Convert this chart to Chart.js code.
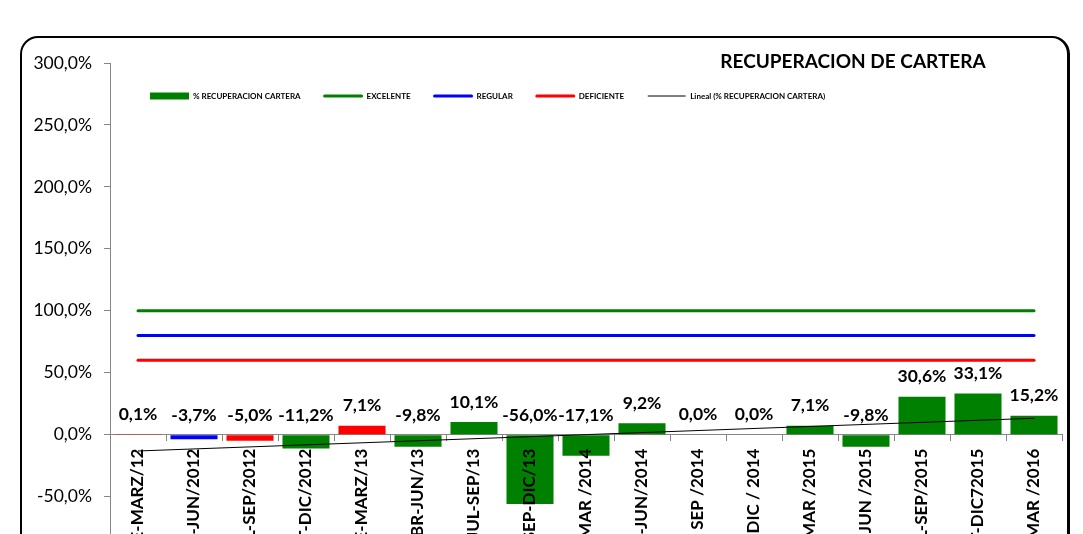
<!DOCTYPE html>
<html>
<head>
<meta charset="utf-8">
<script src="https://cdn.jsdelivr.net/npm/chart.js@4/dist/chart.umd.min.js"></script>
<style>
  html, body { margin: 0; padding: 0; background: #fff; overflow: hidden; }
  body { width: 1083px; height: 534px; position: relative; }
  #marco {
    position: absolute; left: 20px; top: 36px; width: 1045px; height: 700px;
    border: 2px solid #000; border-right-width: 3px; border-radius: 18px;
    pointer-events: none;
  }
  #grafica { position: absolute; left: 0; top: 0; }
</style>
</head>
<body>
<canvas id="grafica" width="1083" height="581"></canvas>
<div id="marco"></div>
<script>
// Periodos (eje X)
const periodos = [
    'ENE-MARZ/12', 'ABR-JUN/2012', 'JUL-SEP/2012', 'OCT-DIC/2012',
    'ENE-MARZ/13', 'ABR-JUN/13', 'JUL-SEP/13', 'SEP-DIC/13',
    'ENE - MAR /2014', 'ABR-JUN/2014', 'JUL - SEP /2014', 'OCT - DIC / 2014',
    'ENE - MAR /2015', 'ABR - JUN /2015', 'JUL-SEP/2015', 'OCT-DIC72015',
    'ENE - MAR /2016'
];
// % recuperacion cartera por periodo
const recuperacion = [0.1, -3.7, -5.0, -11.2, 7.1, -9.8, 10.1, -56.0, -17.1, 9.2, 0.0, 0.0, 7.1, -9.8, 30.6, 33.1, 15.2];
const coloresBarras = ['#ff0000', '#0000ff', '#ff0000', '#008000', '#ff0000', '#008000', '#008000', '#008000',
    '#008000', '#008000', '#008000', '#008000', '#008000', '#008000', '#008000', '#008000', '#008000'];
// Metas
const excelente  = [100, 100, 100, 100, 100, 100, 100, 100, 100, 100, 100, 100, 100, 100, 100, 100, 100];
const regular    = [80, 80, 80, 80, 80, 80, 80, 80, 80, 80, 80, 80, 80, 80, 80, 80, 80];
const deficiente = [60, 60, 60, 60, 60, 60, 60, 60, 60, 60, 60, 60, 60, 60, 60, 60, 60];
// Linea de tendencia (extremos)
const tendencia = [-13.2, null, null, null, null, null, null, null, null, null, null, null, null, null, null, null, 13.2];
// Eje Y
const ejeMin = -100, ejeMax = 300, ejePaso = 50;

const fmt = (v, d) => v.toFixed(d).replace('.', ',') + '%';
const gris = '#868686';

// 游댳 Etiquetas de datos sobre las barras
const etiquetasPlugin = {
    id: 'etiquetas',
    afterDatasetsDraw(chart) {
        const c = chart.ctx;
        const meta = chart.getDatasetMeta(0);
        c.save();
        c.font = 'bold 17.5px Lato';
        c.fillStyle = '#000';
        c.textAlign = 'center';
        c.textBaseline = 'middle';
        meta.data.forEach((bar, i) => {
            const y = Math.min(bar.y, bar.base) - 20;
            c.fillText(fmt(recuperacion[i], 1), bar.x, y);
        });
        c.restore();
    }
};

// 游댳 Titulo y leyenda dibujados a mano
const leyendaPlugin = {
    id: 'leyendaManual',
    afterDraw(chart) {
        const c = chart.ctx;
        c.save();
        c.font = 'bold 19px Lato';
        c.fillStyle = '#000';
        c.textAlign = 'center';
        c.textBaseline = 'middle';
        c.fillText('RECUPERACION DE CARTERA', 853, 62);

        const y = 96;
        let x = 150;
        c.font = 'bold 8px Lato';
        c.textAlign = 'left';
        chart.data.datasets.forEach((ds, i) => {
            if (i === 0) {
                c.fillStyle = '#008000';
                c.fillRect(x, y - 3.5, 39, 7);
            } else {
                c.strokeStyle = ds.borderColor;
                c.lineWidth = ds.borderWidth;
                c.lineCap = 'round';
                c.beginPath();
                c.moveTo(x + 1, y);
                c.lineTo(x + 38, y);
                c.stroke();
            }
            x += 43;
            c.fillStyle = '#000';
            c.fillText(ds.label, x, y);
            x += c.measureText(ds.label).width + 23;
        });
        c.restore();
    }
};

const linea = (label, data, color, width, order) => ({
    type: 'line', label, data, order,
    borderColor: color, backgroundColor: color,
    borderWidth: width, pointRadius: 0, borderCapStyle: 'round',
    spanGaps: true, tension: 0
});

new Chart(document.getElementById('grafica').getContext('2d'), {
    type: 'bar',
    data: {
        labels: periodos,
        datasets: [
            {
                label: '% RECUPERACION CARTERA',
                data: recuperacion,
                backgroundColor: coloresBarras,
                borderWidth: 0,
                barPercentage: 0.84,
                categoryPercentage: 1,
                order: 3
            },
            linea('EXCELENTE', excelente, '#008000', 3, 1),
            linea('REGULAR', regular, '#0000ff', 3, 1),
            linea('DEFICIENTE', deficiente, '#ff0000', 3, 1),
            linea('Lineal (% RECUPERACION CARTERA)', tendencia, '#000000', 1, 0)
        ]
    },
    options: {
        responsive: false,
        animation: false,
        devicePixelRatio: 1,
        layout: { padding: { top: 63, left: 0, right: 21, bottom: 0 } },
        plugins: {
            legend: { display: false },
            title: { display: false },
            tooltip: { enabled: false }
        },
        scales: {
            x: {
                position: { y: 0 },
                afterFit: (s) => { s.height = 25; },
                grid: { drawOnChartArea: false, tickLength: 6, color: gris, offset: true },
                border: { color: gris, width: 1 },
                ticks: {
                    z: 1,
                    autoSkip: false, minRotation: 90, maxRotation: 90, padding: 8,
                    color: '#000', font: { family: 'Lato', size: 17, weight: 'bold' }
                }
            },
            y: {
                min: ejeMin, max: ejeMax,
                afterFit: (s) => { s.width = 110; },
                grid: { drawOnChartArea: false, tickLength: 6, color: gris },
                border: { color: gris, width: 1 },
                ticks: {
                    stepSize: ejePaso, padding: 12, color: '#000',
                    font: { family: 'Lato', size: 17.5 },
                    callback: (v) => fmt(v, 1)
                }
            }
        }
    },
    plugins: [etiquetasPlugin, leyendaPlugin]
});
</script>
</body>
</html>
